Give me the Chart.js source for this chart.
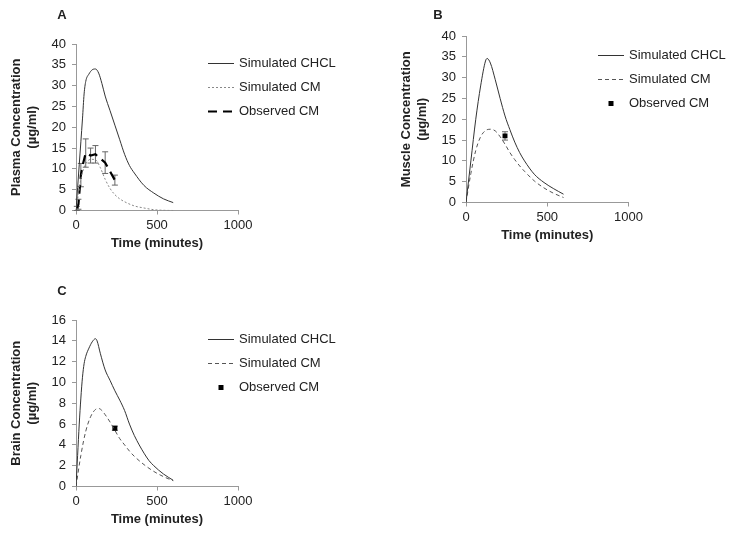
<!DOCTYPE html>
<html>
<head>
<meta charset="utf-8">
<script src="https://cdn.jsdelivr.net/npm/chart.js@4.4.0/dist/chart.umd.min.js"></script>
<style>
  body { margin: 0; background: #fff; width: 729px; height: 533px; position: relative; overflow: hidden; }
  canvas { position: absolute; }
</style>
</head>
<body>
<canvas id="chartA" width="360" height="252" style="left:0;top:0"></canvas>
<canvas id="chartB" width="339" height="244" style="left:390px;top:0"></canvas>
<canvas id="chartC" width="360" height="252" style="left:0;top:276px"></canvas>
<script>
/*********************************************/
/*                 Data                      */
/*********************************************/

// shared x ticks (minutes)
const xTicks = [0, 500, 1000];
const yTicks40 = [0, 5, 10, 15, 20, 25, 30, 35, 40];
const yTicks16 = [0, 2, 4, 6, 8, 10, 12, 14, 16];

// A - plasma
const plasmaChclTime = [0, 10, 20, 30, 40, 50, 60, 80, 100, 120, 140, 160, 180, 210, 240, 270, 300, 330, 360, 420, 480, 540, 600];
const plasmaChcl = [0, 5.5, 11, 16.5, 22, 28, 31, 32.8, 33.8, 34, 33, 30.5, 27.5, 24, 20.5, 17, 13.5, 10.8, 9, 6, 4.2, 2.8, 1.9];
const plasmaCmTime = [0, 15, 30, 45, 60, 90, 120, 150, 180, 210, 240, 270, 300, 360, 420, 480, 540, 600];
const plasmaCm = [0, 4, 7.5, 9.8, 11.2, 12.3, 12.2, 10.3, 7.5, 5.3, 3.8, 2.8, 2.1, 1.1, 0.6, 0.2, 0.05, 0];
const plasmaObsTime = [5, 15, 30, 45, 60, 90, 120, 180, 240];
const plasmaObs = [0.5, 1.5, 8.5, 11.5, 13.8, 13.2, 13.5, 11.5, 7.3];
const plasmaObsErr = [0.5, 1.2, 2.8, 0, 3.4, 1.8, 2.1, 2.6, 1.2];

// B - muscle
const muscleTime = [0, 30, 60, 90, 120, 130, 150, 180, 210, 240, 270, 300, 330, 360, 420, 480, 540, 600];
const muscleChcl = [0, 10, 20, 28, 34, 34.6, 33.5, 29.5, 25, 20.8, 17.5, 14.5, 12, 10, 6.8, 4.8, 3.3, 2];
const muscleCm = [0, 7, 12.5, 15.8, 17.3, 17.5, 17.6, 17.2, 15.8, 14, 12, 10.3, 8.8, 7.5, 5.2, 3.5, 2.2, 1.2];
const muscleObsTime = [240];
const muscleObs = [16];
const muscleObsErr = [1];

// C - brain
const brainChclTime = [0, 10, 20, 30, 40, 50, 60, 80, 100, 120, 130, 150, 180, 210, 240, 270, 300, 330, 360, 390, 420, 450, 480, 540, 600];
const brainChcl = [0, 3, 6, 8.5, 10.5, 11.8, 12.5, 13.3, 13.9, 14.2, 14, 12.8, 11.2, 10.2, 9.2, 8.3, 7.3, 6, 4.9, 4, 3.2, 2.5, 2, 1.2, 0.6];
const brainCmTime = [0, 30, 60, 90, 120, 140, 160, 180, 210, 240, 270, 300, 330, 360, 420, 480, 540, 600];
const brainCm = [0, 3, 5.3, 6.7, 7.4, 7.5, 7.3, 6.9, 6.2, 5.4, 4.6, 4, 3.4, 2.9, 2.1, 1.45, 0.95, 0.55];
const brainObsTime = [240];
const brainObs = [5.6];
const brainObsErr = [0.2];

/*********************************************/
/*                 Helpers                   */
/*********************************************/

Chart.defaults.font.family = "'Liberation Sans', Arial, sans-serif";
Chart.defaults.font.size = 13;
Chart.defaults.color = "#222";

function toPoints(times, values) {
  return times.map(function (t, i) {
    return { x: t, y: values[i] };
  });
}

// error bars, side legend and panel letter
const panelExtras = {
  id: "panelExtras",
  beforeDatasetsDraw(chart) {
    const ctx = chart.ctx;
    const xs = chart.scales.x, ys = chart.scales.y;
    chart.data.datasets.forEach(function (ds) {
      if (!ds.errors) return;
      ctx.save();
      ctx.strokeStyle = "#666";
      ctx.lineWidth = 1;
      ds.data.forEach(function (p, j) {
        const e = ds.errors[j];
        if (!e) return;
        const px = xs.getPixelForValue(p.x);
        const top = ys.getPixelForValue(p.y + e);
        const bot = ys.getPixelForValue(p.y - e);
        ctx.beginPath();
        ctx.moveTo(px, top); ctx.lineTo(px, bot);
        ctx.moveTo(px - 3, top); ctx.lineTo(px + 3, top);
        ctx.moveTo(px - 3, bot); ctx.lineTo(px + 3, bot);
        ctx.stroke();
      });
      ctx.restore();
    });
  },
  afterDraw(chart, args, opts) {
    const ctx = chart.ctx;
    const area = chart.chartArea;
    const x0 = area.left + 132;
    ctx.save();
    chart.data.datasets.forEach(function (ds, i) {
      const y = area.top + 19.5 + i * 24;
      if (ds.showLine === false) {
        ctx.fillStyle = ds.backgroundColor;
        ctx.fillRect(x0 + 13 - 2.5, y - 2.5, 5, 5);
      } else {
        ctx.strokeStyle = ds.borderColor;
        ctx.lineWidth = ds.borderWidth;
        ctx.setLineDash(ds.borderDash || []);
        ctx.beginPath();
        ctx.moveTo(x0, y);
        ctx.lineTo(x0 + 26, y);
        ctx.stroke();
        ctx.setLineDash([]);
      }
      ctx.fillStyle = "#222";
      ctx.font = "13px 'Liberation Sans', Arial, sans-serif";
      ctx.textBaseline = "middle";
      ctx.textAlign = "left";
      ctx.fillText(ds.label, x0 + 31, y);
    });
    ctx.font = "bold 13px 'Liberation Sans', Arial, sans-serif";
    ctx.textAlign = "center";
    ctx.fillText(opts.letter, area.left + opts.letterDx, 15);
    ctx.restore();
  }
};

function makeChart(id, cfg) {
  return new Chart(document.getElementById(id), {
    type: "line",
    data: { datasets: cfg.datasets },
    options: {
      responsive: false,
      animation: false,
      layout: { padding: { top: cfg.top, right: cfg.right, left: 0, bottom: 0 } },
      plugins: {
        legend: { display: false },
        tooltip: { enabled: false },
        panelExtras: { letter: cfg.letter, letterDx: cfg.letterDx }
      },
      scales: {
        x: {
          type: "linear",
          min: 0,
          max: 1000,
          afterBuildTicks: function (s) { s.ticks = xTicks.map(function (v) { return { value: v }; }); },
          afterFit: function (s) { s.height = 41.5; },
          grid: { drawOnChartArea: false, tickLength: 4, color: "#999" },
          border: { color: "#999" },
          ticks: { padding: 3, maxRotation: 0, callback: function (v) { return String(v); } },
          title: { display: true, text: "Time (minutes)", font: { size: 13, weight: "bold" }, padding: { top: 0, bottom: 1 } }
        },
        y: {
          min: 0,
          max: cfg.yMax,
          afterBuildTicks: function (s) { s.ticks = cfg.yTicks.map(function (v) { return { value: v }; }); },
          afterFit: function (s) { s.width = 76; },
          grid: { drawOnChartArea: false, tickLength: 4, color: "#999" },
          border: { color: "#999" },
          ticks: { padding: 6, callback: function (v) { return String(v); } },
          title: { display: true, text: [cfg.yTitle, "(µg/ml)"], font: { size: 13, weight: "bold" }, padding: { top: 9, bottom: 0 } }
        }
      }
    },
    plugins: [panelExtras]
  });
}

function simLine(label, times, values, color, dash) {
  return {
    label: label,
    data: toPoints(times, values),
    borderColor: color,
    borderWidth: 1,
    borderDash: dash,
    pointRadius: 0,
    fill: false,
    cubicInterpolationMode: "monotone"
  };
}

function obsPoints(times, values, errors) {
  return {
    label: "Observed CM",
    data: toPoints(times, values),
    errors: errors,
    showLine: false,
    pointStyle: "rect",
    pointRadius: 3.5,
    backgroundColor: "#000",
    borderColor: "#000",
    borderWidth: 0
  };
}

/*********************************************/
/*                 Charts                    */
/*********************************************/

makeChart("chartA", {
  top: 44, right: 122, yMax: 40, yTicks: yTicks40,
  yTitle: "Plasma Concentration", letter: "A", letterDx: -14,
  datasets: [
    simLine("Simulated CHCL", plasmaChclTime, plasmaChcl, "#333", []),
    simLine("Simulated CM", plasmaCmTime, plasmaCm, "#888", [2, 2]),
    {
      label: "Observed CM",
      data: toPoints(plasmaObsTime, plasmaObs),
      errors: plasmaObsErr,
      borderColor: "#000",
      borderWidth: 2.2,
      borderDash: [9, 6],
      pointRadius: 0,
      fill: false
    }
  ]
});

makeChart("chartB", {
  top: 36, right: 100.5, yMax: 40, yTicks: yTicks40,
  yTitle: "Muscle Concentration", letter: "B", letterDx: -28,
  datasets: [
    simLine("Simulated CHCL", muscleTime, muscleChcl, "#333", []),
    simLine("Simulated CM", muscleTime, muscleCm, "#555", [4, 3]),
    obsPoints(muscleObsTime, muscleObs, muscleObsErr)
  ]
});

makeChart("chartC", {
  top: 44, right: 122, yMax: 16, yTicks: yTicks16,
  yTitle: "Brain Concentration", letter: "C", letterDx: -14,
  datasets: [
    simLine("Simulated CHCL", brainChclTime, brainChcl, "#333", []),
    simLine("Simulated CM", brainCmTime, brainCm, "#555", [4, 3]),
    obsPoints(brainObsTime, brainObs, brainObsErr)
  ]
});
</script>
</body>
</html>
